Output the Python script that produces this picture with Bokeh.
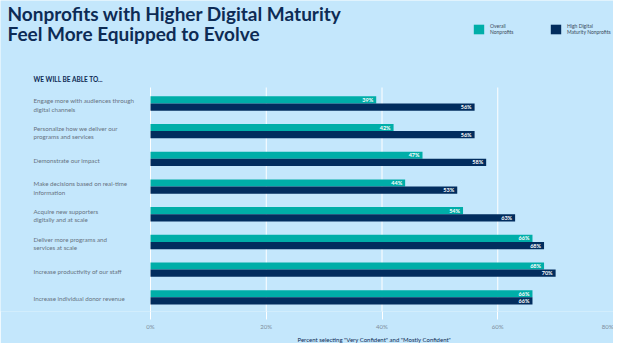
from bokeh.plotting import figure
from bokeh.models import (ColumnDataSource, Range1d, LabelSet, Label, Title,
                          Legend, LegendItem, FixedTicker)
from bokeh.core.properties import value
from bokeh.transform import dodge
from bokeh.embed import file_html
from bokeh.resources import INLINE

# ---------------- data ----------------
categories = [
    "Engage more with audiences through\ndigital channels",
    "Personalize how we deliver our\nprograms and services",
    "Demonstrate our impact",
    "Make decisions based on real-time\ninformation",
    "Acquire new supporters\ndigitally and at scale",
    "Deliver more programs and\nservices at scale",
    "Increase productivity of our staff",
    "Increase individual donor revenue",
]
overall = [39, 42, 47, 44, 54, 66, 68, 66]
high_maturity = [56, 56, 58, 53, 63, 68, 70, 66]
series_names = ["Overall\nNonprofits", "High Digital\nMaturity Nonprofits"]
x_ticks = [0, 20, 40, 60, 80]
tick_labels = ["0%", "20%", "40%", "60%", "80%"]
title_lines = ["Nonprofits with Higher Digital Maturity", "Feel More Equipped to Evolve"]
subhead = "WE WILL BE ABLE TO..."
footnote = 'Percent selecting "Very Confident" and "Mostly Confident"'

# ---------------- style / layout ----------------
BG = "#C4E7FC"
TEAL = "#00AEA8"
NAVY = "#022D5E"
TITLE_C = "#0D2B55"
GRAY = "#66727F"
FONT = "Lato"

W, H = 613, 343
FRAME_BOTTOM = 311          # frame covers pixel rows 0..311
X0_PX, PX_PER_X = 150, 5.7875   # where 0% sits, pixels per percent
ROW0_PX, PX_PER_ROW = 103.0, 27.7

n = len(categories)


def dx(px):
    return (px - X0_PX) / PX_PER_X


def dy(py):
    return (py - ROW0_PX) / PX_PER_ROW


src = ColumnDataSource(dict(
    row=list(range(n)),
    cat=categories,
    overall=overall,
    high=high_maturity,
    overall_lbl=[f"{v}%" for v in overall],
    high_lbl=[f"{v}%" for v in high_maturity],
))

p = figure(width=W, height=H, output_backend="svg", toolbar_location=None,
           x_range=Range1d(dx(0), dx(W)),
           y_range=Range1d(dy(FRAME_BOTTOM), dy(0)),
           y_axis_location=None,
           min_border_left=0, min_border_right=0,
           min_border_top=0, min_border_bottom=H - FRAME_BOTTOM,
           background_fill_color=BG, border_fill_color=BG,
           outline_line_color=None)

# gridlines (only across the bar area)
p.segment(x0=x_ticks, x1=x_ticks, y0=dy(87), y1=dy(FRAME_BOTTOM),
          line_color="white", line_width=1)

r1 = p.hbar(y=dodge("row", -0.132), left=0, right="overall",
            height=0.255, fill_color=TEAL, line_color=None, source=src)
r2 = p.hbar(y=dodge("row", 0.128), left=0, right="high",
            height=0.262, fill_color=NAVY, line_color=None, source=src)

p.add_layout(LabelSet(x="overall", y=dodge("row", -0.132), text="overall_lbl",
                      source=src, x_offset=-3, text_align="right",
                      text_baseline="middle", text_color="white",
                      text_font_size="5.5px", text_font=value(FONT),
                      text_font_style="bold"))
p.add_layout(LabelSet(x="high", y=dodge("row", 0.128), text="high_lbl",
                      source=src, x_offset=-3, text_align="right",
                      text_baseline="middle", text_color="white",
                      text_font_size="5.5px", text_font=value(FONT),
                      text_font_style="bold"))

# category labels
p.add_layout(LabelSet(x=dx(33), y=dodge("row", 0.05), text="cat", source=src,
                      text_align="left", text_baseline="middle",
                      text_color=GRAY, text_font_size="6.2px",
                      text_font=value(FONT), text_line_height=1.2))

# axis
p.xaxis.ticker = FixedTicker(ticks=x_ticks)
p.xaxis.major_label_overrides = {t: l for t, l in zip(x_ticks, tick_labels)}
p.xaxis.axis_line_color = None
p.xaxis.major_tick_line_color = "white"
p.xaxis.major_tick_line_width = 1
p.xaxis.major_tick_out = 8
p.xaxis.major_tick_in = 0
p.xaxis.minor_tick_line_color = None
p.xaxis.major_label_text_color = "#7D8C9B"
p.xaxis.major_label_text_font_size = "6px"
p.xaxis.major_label_text_font = FONT
p.xaxis.major_label_standoff = 3
p.grid.grid_line_color = None

# titles
p.add_layout(Label(x=dx(7), y=dy(13), text=title_lines[0], text_align="left",
                   text_baseline="middle", text_color=TITLE_C,
                   text_font_size="19px", text_font=FONT, text_font_style="bold"))
p.add_layout(Label(x=dx(7), y=dy(33), text=title_lines[1], text_align="left",
                   text_baseline="middle", text_color=TITLE_C,
                   text_font_size="19px", text_font=FONT, text_font_style="bold"))
p.add_layout(Label(x=dx(33), y=dy(79), text=subhead, text_align="left",
                   text_baseline="middle", text_color=TITLE_C,
                   text_font_size="6.5px", text_font=FONT, text_font_style="bold"))

# footnote under the axis
p.add_layout(Title(text=footnote, align="left", offset=297, standoff=2,
                   text_color=TITLE_C, text_font_size="6px", text_font=FONT,
                   text_font_style="normal"), "below")

# legends (one per item, placed like the reference)
for r, name, px in [(r1, series_names[0], 472), (r2, series_names[1], 549)]:
    lg = Legend(items=[LegendItem(label=name, renderers=[r])],
                location=(px, FRAME_BOTTOM - 35),
                orientation="horizontal",
                background_fill_alpha=0, border_line_color=None,
                glyph_width=13, glyph_height=12, label_standoff=5,
                label_text_font_size="5px", label_text_font=FONT,
                label_text_color="#3A4A5A", label_text_line_height=1.3,
                padding=0, margin=0, spacing=0)
    p.add_layout(lg)

open("out.html", "w").write(file_html(p, INLINE))
